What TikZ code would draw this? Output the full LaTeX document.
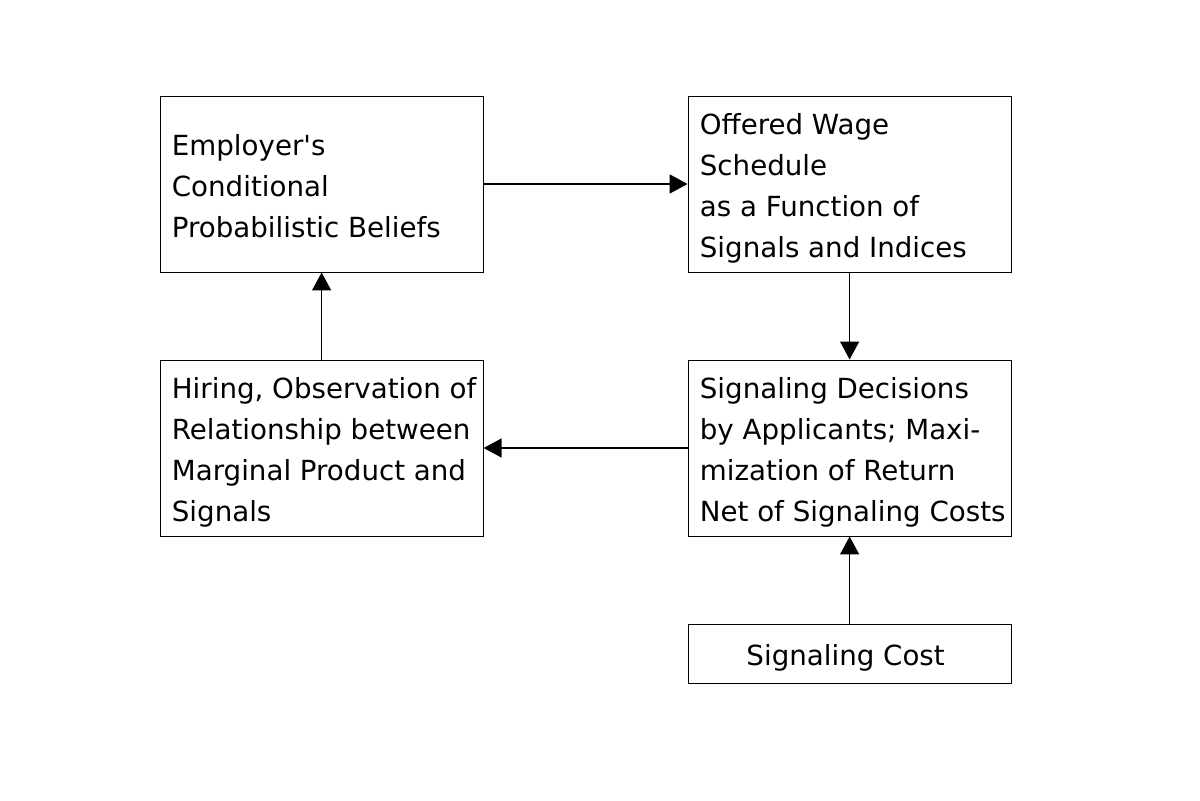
\documentclass[tikz,border=0pt]{standalone}
\usepackage{fontspec}
\setmainfont{DejaVu Sans}
\usetikzlibrary{arrows.meta}

\begin{document}
\begin{tikzpicture}[
  box/.style={draw, line width=0.7pt, minimum height=4.4cm, minimum width=8.075cm},
  words/.style={anchor=west, inner xsep=0.3cm, yshift=-0.165cm, align=left,
    font=\fontsize{19.7}{29.2}\selectfont,
    execute at begin node=\rule{0pt}{24pt}, execute at end node=\rule[-7pt]{0pt}{7pt}},
  costbox/.style={draw, line width=0.7pt, minimum height=1.475cm, minimum width=8.075cm,
    align=center, font=\fontsize{19.7}{29.2}\selectfont,
    execute at begin node=\rule{0pt}{24pt}, execute at end node=\rule[-7pt]{0pt}{7pt}},
  flow/.style={line width=1.05pt, -{Triangle[length=0.45cm, width=0.475cm]}}
]
\useasboundingbox (0, 0) rectangle (30, 20);

% Các hộp
\node[box, label={[words]west:Employer\textquotesingle s\\Conditional\\Probabilistic Beliefs}] (beliefs) at (8.04, 15.4) {};
\node[box, label={[words]west:Offered Wage\\Schedule\\as a Function of\\Signals and Indices}] (wage) at (21.24, 15.4) {};
\node[box, label={[words]west:Hiring, Observation of\\Relationship between\\Marginal Product and\\Signals}] (hiring) at (8.04, 8.8) {};
\node[box, label={[words]west:Signaling Decisions\\by Applicants; Maxi-\\mization of Return\\Net of Signaling Costs}] (decisions) at (21.24, 8.8) {};
\node[costbox] (cost) at (21.24, 3.66) {Signaling Cost\hspace*{0.2cm}};

% Các mũi tên
\draw[flow] (beliefs) -- (wage);
\draw[flow] (wage) -- (decisions);
\draw[flow] (decisions) -- (hiring);
\draw[flow] (hiring) -- (beliefs);
\draw[flow] (cost) -- (decisions);
\end{tikzpicture}
\end{document}
